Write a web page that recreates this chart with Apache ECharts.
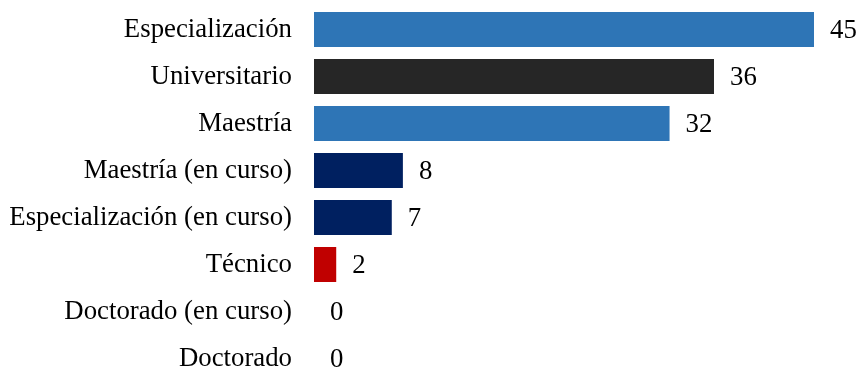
<!DOCTYPE html>
<html>
<head>
<meta charset="utf-8">
<script src="https://cdn.jsdelivr.net/npm/echarts@6/dist/echarts.min.js"></script>
<style>
  html, body { margin: 0; padding: 0; background: #fff; }
  #chart { width: 858px; height: 369px; }
</style>
</head>
<body>
<div id="chart"></div>
<script>
// Nivel de formación, de mayor a menor
const categories = [
  'Especialización',
  'Universitario',
  'Maestría',
  'Maestría (en curso)',
  'Especialización (en curso)',
  'Técnico',
  'Doctorado (en curso)',
  'Doctorado'
];
const values = [45, 36, 32, 8, 7, 2, 0, 0];
const barColors = ['#2E75B6', '#262626', '#2E75B6', '#002060', '#002060', '#C00000', '#2E75B6', '#2E75B6'];

const fontFamily = '"Liberation Serif", "Times New Roman", serif';

const chart = echarts.init(document.getElementById('chart'), null, { renderer: 'canvas' });
chart.setOption({
  backgroundColor: '#ffffff',
  animation: false,
  grid: {
    left: 314, top: 6, width: 500, height: 376,
    containLabel: false,
    outerBoundsMode: 'none'
  },
  xAxis: {
    type: 'value',
    min: 0,
    max: 45,
    show: false
  },
  yAxis: {
    type: 'category',
    data: categories,
    inverse: true,
    axisLine: { show: false },
    axisTick: { show: false },
    axisLabel: {
      margin: 22,
      color: '#000000',
      fontFamily: fontFamily,
      fontSize: 26.8
    }
  },
  series: [{
    type: 'bar',
    data: values.map((v, i) => ({ value: v, itemStyle: { color: barColors[i] } })),
    barWidth: 35,
    label: {
      show: true,
      position: 'right',
      distance: 16,
      offset: [0, 1],
      color: '#000000',
      fontFamily: fontFamily,
      fontSize: 26.8
    }
  }]
});
</script>
</body>
</html>
